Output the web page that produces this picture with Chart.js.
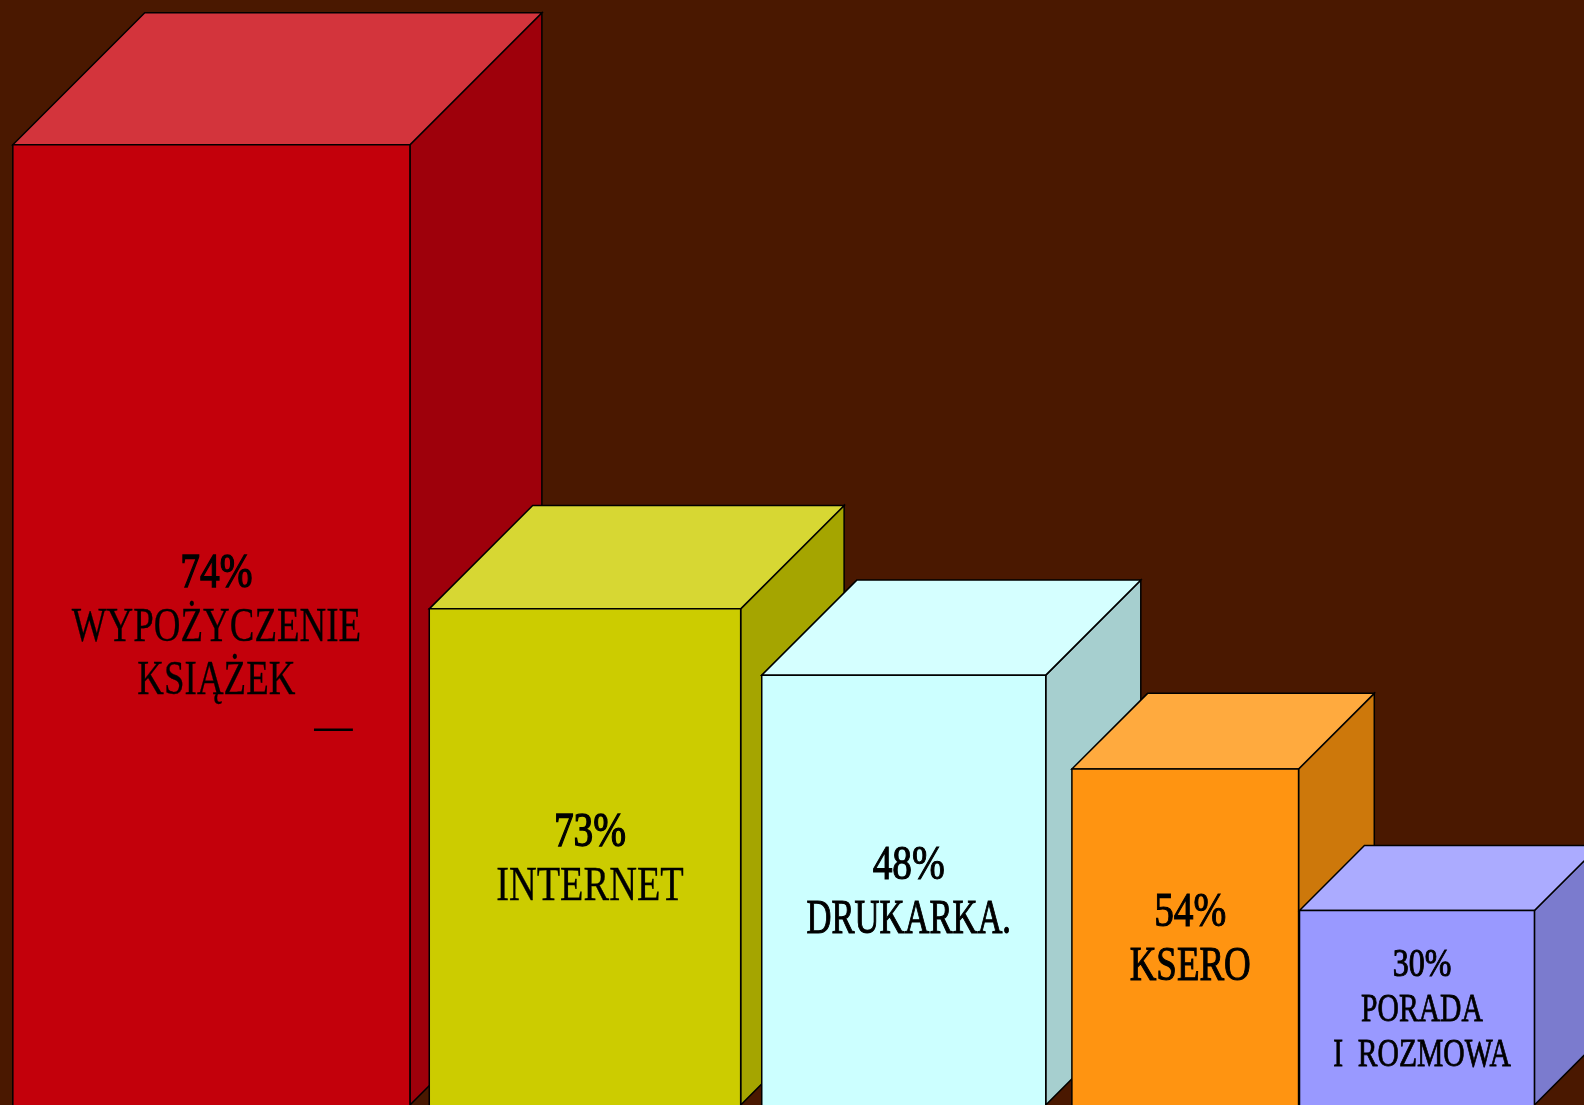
<!DOCTYPE html>
<html>
<head>
<meta charset="utf-8">
<script src="https://cdn.jsdelivr.net/npm/chart.js@4"></script>
<style>
  html, body { margin: 0; padding: 0; background: #4a1800; overflow: hidden; }
  #wrap { width: 1584px; height: 1105px; position: relative; }
</style>
</head>
<body>
<div id="wrap"><canvas id="chart"></canvas></div>
<script>
// category labels, one entry per bar (lines as in the picture)
const categories = [
  ["WYPOŻYCZENIE", "KSIĄŻEK"],
  ["INTERNET"],
  ["DRUKARKA."],
  ["KSERO"],
  ["PORADA", "I  ROZMOWA"]
];
const percents = [74, 73, 48, 54, 30];
// bar heights as drawn in the picture (0-100 of plot height); they are not proportional to the percents
const heights = [86.9, 44.9, 38.9, 30.4, 17.6];

const frontColors = ["#c3000b", "#cccc00", "#ccffff", "#ff9411", "#9999ff"];
const topColors = ["#d3343c", "#d7d733", "#d5ffff", "#ffaa3e", "#ababff"];
const sideColors = ["#9e000b", "#a5a500", "#a6cfcf", "#cd780b", "#7b7bce"];

function face(ctx, pts, fill) {
  ctx.beginPath();
  ctx.moveTo(pts[0][0], pts[0][1]);
  for (let k = 1; k < pts.length; k++) ctx.lineTo(pts[k][0], pts[k][1]);
  ctx.closePath();
  ctx.fillStyle = fill;
  ctx.fill();
  ctx.stroke();
}

function squeezedText(ctx, text, x, y, sx, weight) {
  ctx.save();
  ctx.translate(x, y);
  ctx.scale(sx, 1);
  ctx.fillText(text, 0, 0);
  if (weight > 0) {
    ctx.lineWidth = weight;
    ctx.strokeText(text, 0, 0);
  }
  ctx.restore();
}

// draws each bar as a box: side, top, front, then its label
const boxes3d = {
  id: "boxes3d",
  beforeDatasetsDraw(chart, args, opts) {
    const ctx = chart.ctx;
    const xs = chart.scales.xpos;
    const base = chart.scales.y.getPixelForValue(0);
    const bottom = chart.chartArea.bottom;
    const meta = chart.getDatasetMeta(0);

    ctx.save();
    ctx.lineJoin = "miter";
    meta.data.forEach((bar, i) => {
      const left = xs.getPixelForValue(opts.spans[i][0]);
      const right = xs.getPixelForValue(opts.spans[i][1]);
      const d = xs.getPixelForValue(opts.depth[i]) - xs.getPixelForValue(0);
      const top = bar.y;

      ctx.strokeStyle = "#000";
      ctx.lineWidth = 1.5;
      face(ctx, [[right, top], [right + d, top - d], [right + d, base - d], [right, base]], sideColors[i]);
      face(ctx, [[left, top], [left + d, top - d], [right + d, top - d], [right, top]], topColors[i]);
      face(ctx, [[left, top], [right, top], [right, base + 2], [left, base + 2]], frontColors[i]);

      // label centred in the visible part of the front face
      const fs = opts.fontSize[i];
      const lh = fs * 1.115;
      const lines = [percents[i] + "%"].concat(categories[i]);
      const cx = (left + right) / 2 + 5;
      const cy = (top + bottom) / 2;
      let y = cy - (lines.length - 1) * lh / 2 + fs * 0.33;
      ctx.fillStyle = "#000";
      ctx.textAlign = "center";
      ctx.textBaseline = "alphabetic";
      ctx.font = fs + "px 'Liberation Serif', 'Times New Roman', serif";
      lines.forEach((t, k) => {
        if (k === 0) squeezedText(ctx, t, cx, y, opts.numScale[i], opts.numWeight[i]);
        else squeezedText(ctx, t, cx, y, opts.textScale[i], opts.textWeight[i]);
        y += lh;
      });
      opts.strays.filter((s) => s.bar === i).forEach((s) => {
        squeezedText(ctx, s.text, cx + s.dx, y - lh + s.dy, 0.8, 0);
      });
    });
    ctx.restore();
    return false;
  }
};

new Chart(document.getElementById("chart"), {
  type: "bar",
  data: {
    labels: categories.map((c) => c.join(" ")),
    datasets: [{
      data: heights,
      backgroundColor: frontColors
    }]
  },
  options: {
    responsive: true,
    maintainAspectRatio: false,
    animation: false,
    layout: { padding: 0 },
    plugins: {
      legend: { display: false },
      tooltip: { enabled: false },
      boxes3d: {
        // front-face left/right edges on the 0-100 horizontal position scale
        spans: [[0.81, 25.88], [27.10, 46.76], [48.09, 66.02], [67.67, 81.98], [82.04, 96.87]],
        depth: [8.33, 6.53, 6.0, 4.78, 4.1],
        fontSize: [48, 48, 48, 48, 40],
        numScale: [0.82, 0.82, 0.82, 0.82, 0.8],
        textScale: [0.77, 0.8, 0.72, 0.77, 0.74],
        numWeight: [1.3, 1.3, 1.1, 1.1, 1.0],
        textWeight: [0.3, 0.3, 1.1, 1.1, 0.8],
        strays: [{ bar: 0, text: "—", dx: 117, dy: 47 }]
      }
    },
    scales: {
      x: { display: false },
      xpos: { type: "linear", axis: "x", display: false, offset: false, min: 0, max: 100 },
      y: { display: false, min: 0, max: 100 }
    }
  },
  plugins: [boxes3d]
});
</script>
</body>
</html>
